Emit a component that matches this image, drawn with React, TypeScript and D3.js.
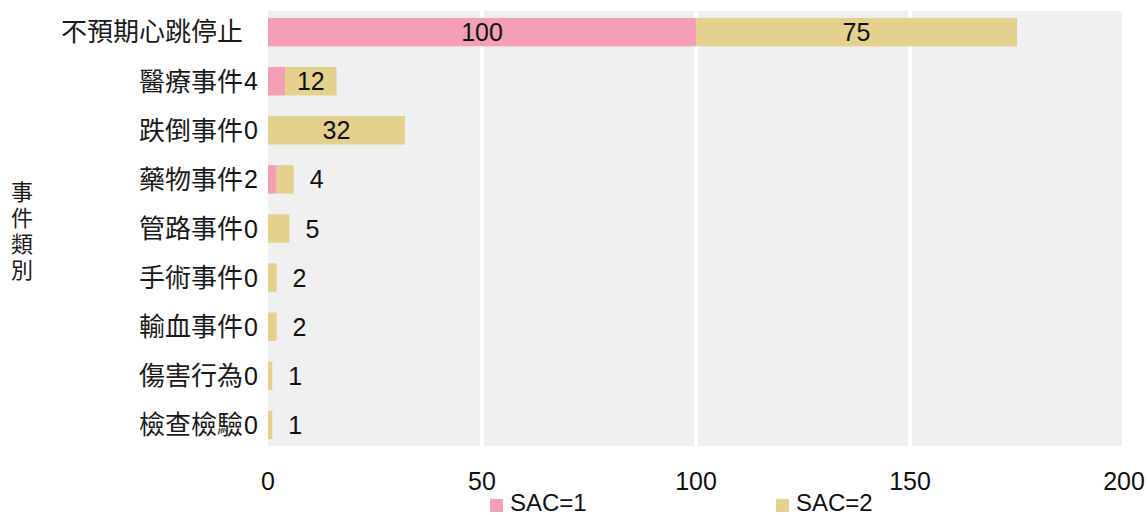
import React from 'react'
import * as d3 from 'd3'

const categories = ['不預期心跳停止', '醫療事件', '跌倒事件', '藥物事件', '管路事件', '手術事件', '輸血事件', '傷害行為', '檢查檢驗']
const sac1 = [100, 4, 0, 2, 0, 0, 0, 0, 0]
const sac2 = [75, 12, 32, 4, 5, 2, 2, 1, 1]
const xTicks = [0, 50, 100, 150, 200]
const seriesNames = ['SAC=1', 'SAC=2']

const PINK = '#f59fb7'
const GOLD = '#e3d18d'
const FONT = '"Liberation Sans", Arial, "Noto Sans CJK TC", sans-serif'
const CJK = '"Noto Sans CJK TC", "Liberation Sans", sans-serif'

const width = 1148
const height = 515
const panel = { left: 268, right: 1122, top: 11, bottom: 446 }

const App = () => {
  const x = d3.scaleLinear().domain([0, 200]).range([panel.left, 1124])
  const y = d3.scaleBand()
    .domain(categories)
    .range([panel.top, panel.bottom])
    .paddingInner(0.42)
    .paddingOuter(0.14)

  const bw = y.bandwidth()

  return (
    <svg width={width} height={height} style={{ position: 'absolute', left: 0, top: 0 }}>
      <rect x={panel.left} y={panel.top} width={panel.right - panel.left} height={panel.bottom - panel.top} fill="#f0f0f0" />
      {xTicks.slice(1, -1).map(t => (
        <line key={t} x1={x(t)} x2={x(t)} y1={panel.top} y2={panel.bottom} stroke="#fff" strokeWidth={4} />
      ))}

      {categories.map((c, i) => {
        const cy = (y(c) as number) + bw / 2
        const x0 = x(0)
        const x1 = x(sac1[i])
        const x2 = x(sac1[i] + sac2[i])
        const small1 = sac1[i] < 10
        const small2 = sac2[i] < 10
        return (
          <g key={c}>
            <rect x={x0} y={y(c)} width={x1 - x0} height={bw} fill={PINK} />
            <rect x={x1} y={y(c)} width={x2 - x1} height={bw} fill={GOLD} />
            <text x={x0 - 25} y={cy} dy="0.36em" textAnchor="end" fontFamily={CJK} fontSize={26} fill="#1a1a1a">{c}</text>
            <text
              x={small1 ? x0 - 10 : (x0 + x1) / 2}
              y={cy} dy="0.36em"
              textAnchor={small1 ? 'end' : 'middle'}
              fontFamily={FONT} fontSize={25} fill="#111"
            >{sac1[i]}</text>
            <text
              x={small2 ? x2 + 16 : (x1 + x2) / 2}
              y={cy} dy="0.36em"
              textAnchor={small2 ? 'start' : 'middle'}
              fontFamily={FONT} fontSize={25} fill="#111"
            >{sac2[i]}</text>
          </g>
        )
      })}

      {xTicks.map(t => (
        <text key={t} x={x(t)} y={490} textAnchor="middle" fontFamily={FONT} fontSize={25} fill="#111">{t}</text>
      ))}

      <text
        x={22} y={181}
        style={{ writingMode: 'vertical-rl' }}
        letterSpacing={4}
        fontFamily={CJK} fontSize={22} fill="#1a1a1a"
      >事件類別</text>

      {seriesNames.map((s, i) => {
        const lx = i === 0 ? 490 : 776
        return (
          <g key={s}>
            <rect x={lx} y={499} width={13} height={13} fill={i === 0 ? PINK : GOLD} />
            <text x={lx + 20} y={511} fontFamily={FONT} fontSize={24} fill="#111">{s}</text>
          </g>
        )
      })}
    </svg>
  )
}

export default App
